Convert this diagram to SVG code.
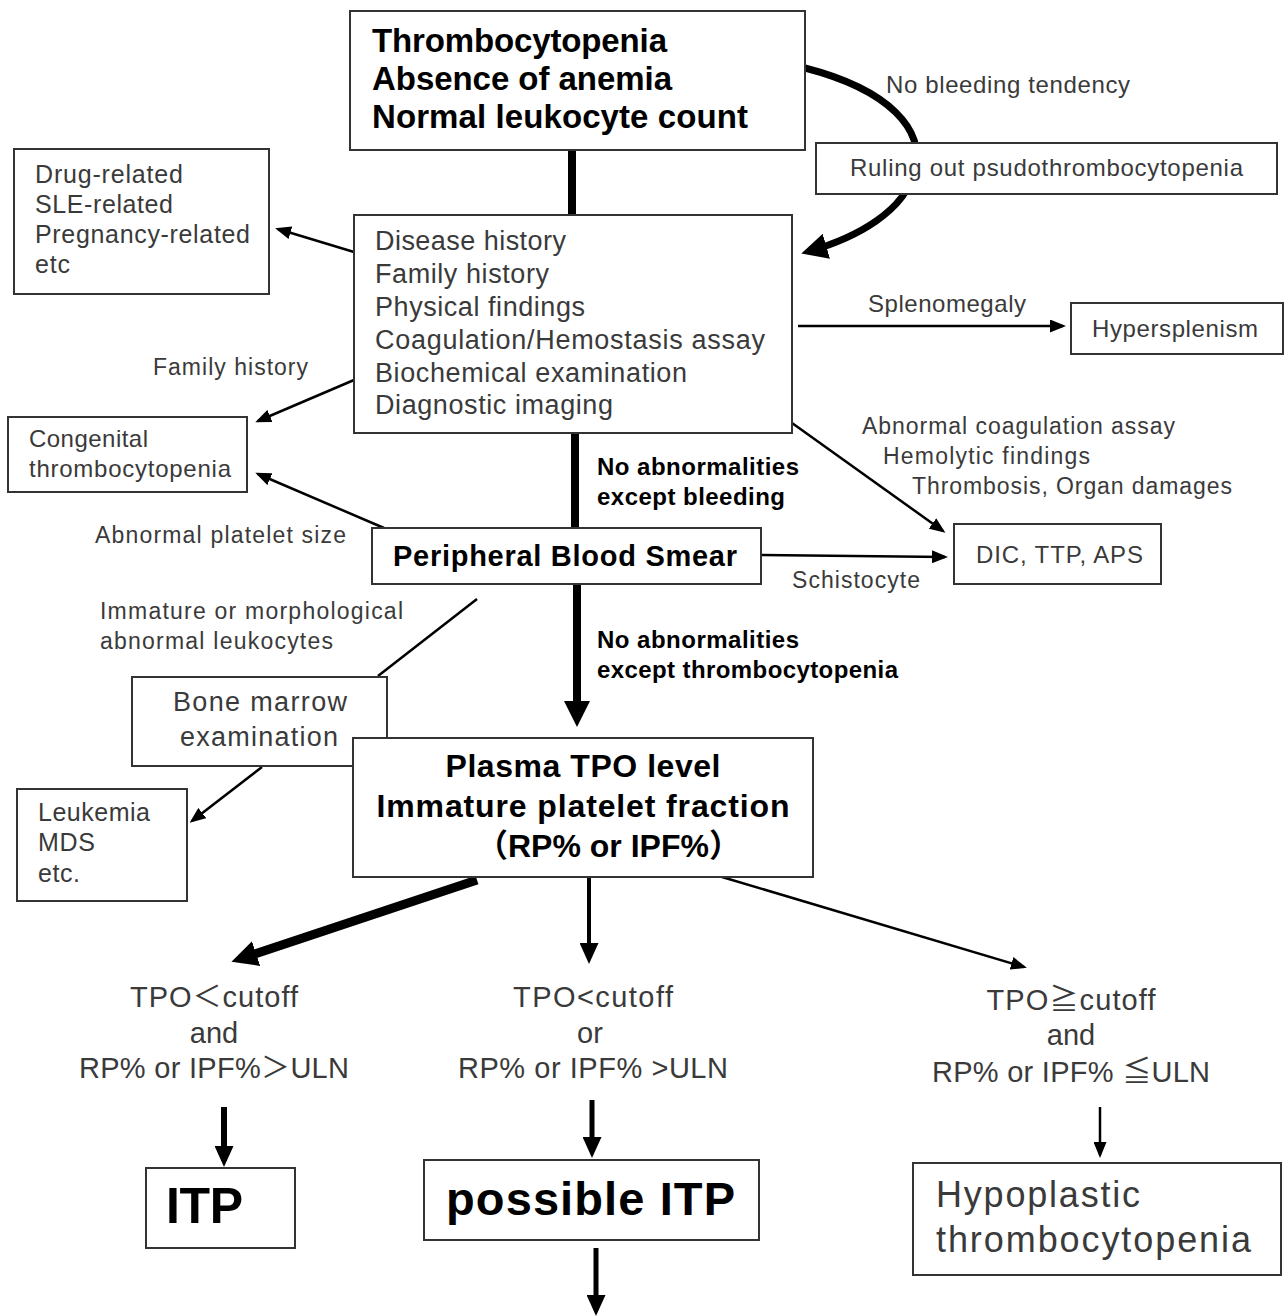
<svg xmlns="http://www.w3.org/2000/svg" width="1285" height="1316" viewBox="0 0 1285 1316">
<style>
text{font-family:"Liberation Sans","Noto Sans CJK JP",sans-serif;}
.r{fill:#3a3a3a;font-weight:400;}
.b{fill:#000;font-weight:700;}
.box{fill:#fff;stroke:#333;stroke-width:2;}
.c{fill:none;stroke:#000;}
.m{text-anchor:middle;}
</style>
<defs>
<marker id="as" markerUnits="userSpaceOnUse" viewBox="0 0 16 13" refX="13" refY="6.5" markerWidth="16" markerHeight="13" orient="auto"><path d="M0,0 L16,6.5 L0,13 z" fill="#000"/></marker>
<marker id="am" markerUnits="userSpaceOnUse" viewBox="0 0 21 19" refX="15" refY="9.5" markerWidth="21" markerHeight="19" orient="auto"><path d="M0,0 L21,9.5 L0,19 z" fill="#000"/></marker>
<marker id="al" markerUnits="userSpaceOnUse" viewBox="0 0 26 26" refX="17" refY="13" markerWidth="26" markerHeight="26" orient="auto"><path d="M0,0 L26,13 L0,26 z" fill="#000"/></marker>
</defs>

<g id="connectors">
<line class="c" x1="572" y1="150" x2="572" y2="215" stroke-width="8"/>
<path class="c" d="M805,68 C890,90 925,130 915,170 C905,212 855,238 810,251" stroke-width="7" marker-end="url(#al)"/>
<line class="c" x1="354" y1="252" x2="278" y2="229" stroke-width="2.5" marker-end="url(#as)"/>
<line class="c" x1="354" y1="380" x2="258" y2="421" stroke-width="2.5" marker-end="url(#as)"/>
<line class="c" x1="384" y1="528" x2="258" y2="474" stroke-width="2.5" marker-end="url(#as)"/>
<line class="c" x1="575" y1="433" x2="575" y2="528" stroke-width="8"/>
<line class="c" x1="798" y1="326" x2="1063" y2="326" stroke-width="2.5" marker-end="url(#as)"/>
<line class="c" x1="792" y1="423" x2="943" y2="531" stroke-width="2.5" marker-end="url(#as)"/>
<line class="c" x1="761" y1="555" x2="945" y2="557" stroke-width="2.5" marker-end="url(#as)"/>
<line class="c" x1="577" y1="584" x2="577" y2="718" stroke-width="8" marker-end="url(#al)"/>
<line class="c" x1="477" y1="599" x2="378" y2="676" stroke-width="2.5"/>
<line class="c" x1="262" y1="767" x2="192" y2="821" stroke-width="2.5" marker-end="url(#as)"/>
<line class="c" x1="477" y1="880" x2="240" y2="959" stroke-width="9" marker-end="url(#al)"/>
<line class="c" x1="589" y1="877" x2="589" y2="958" stroke-width="4" marker-end="url(#am)"/>
<line class="c" x1="722" y1="877" x2="1024" y2="967" stroke-width="2.5" marker-end="url(#as)"/>
<line class="c" x1="224" y1="1107" x2="224" y2="1161" stroke-width="6" marker-end="url(#am)"/>
<line class="c" x1="592" y1="1100" x2="592" y2="1152" stroke-width="5" marker-end="url(#am)"/>
<line class="c" x1="1100" y1="1107" x2="1100" y2="1155" stroke-width="2.5" marker-end="url(#as)"/>
<line class="c" x1="596" y1="1248" x2="596" y2="1310" stroke-width="5" marker-end="url(#am)"/>
</g>

<g id="n-start">
<rect class="box" x="350" y="11" width="455" height="139"/>
<text class="b" x="372" y="52" font-size="33" textLength="295" lengthAdjust="spacing">Thrombocytopenia</text>
<text class="b" x="372" y="90" font-size="33" textLength="300" lengthAdjust="spacing">Absence of anemia</text>
<text class="b" x="372" y="128" font-size="33" textLength="376" lengthAdjust="spacing">Normal leukocyte count</text>
</g>

<g id="n-ruling">
<rect class="box" x="816" y="143" width="461" height="51"/>
<text class="r" x="850" y="176" font-size="24" textLength="393">Ruling out psudothrombocytopenia</text>
</g>
<g id="l-nobleed"><text class="r" x="886" y="93" font-size="24" textLength="244">No bleeding tendency</text></g>

<g id="n-history">
<rect class="box" x="354" y="215" width="438" height="218"/>
<text class="r" x="375" y="250" font-size="27" textLength="191">Disease history</text>
<text class="r" x="375" y="283" font-size="27" textLength="174">Family history</text>
<text class="r" x="375" y="316" font-size="27" textLength="210">Physical findings</text>
<text class="r" x="375" y="349" font-size="27" textLength="390">Coagulation/Hemostasis assay</text>
<text class="r" x="375" y="382" font-size="27" textLength="312">Biochemical examination</text>
<text class="r" x="375" y="414" font-size="27" textLength="238">Diagnostic imaging</text>
</g>

<g id="n-drug">
<rect class="box" x="14" y="149" width="255" height="145"/>
<text class="r" x="35" y="183" font-size="25" textLength="148">Drug-related</text>
<text class="r" x="35" y="213" font-size="25" textLength="138">SLE-related</text>
<text class="r" x="35" y="243" font-size="25" textLength="215">Pregnancy-related</text>
<text class="r" x="35" y="273" font-size="25" textLength="35">etc</text>
</g>

<g id="l-family"><text class="r" x="153" y="375" font-size="23" textLength="155">Family history</text></g>

<g id="n-hyper">
<rect class="box" x="1071" y="303" width="212" height="51"/>
<text class="r" x="1092" y="337" font-size="24" textLength="166">Hypersplenism</text>
</g>
<g id="l-spleno"><text class="r" x="868" y="312" font-size="24" textLength="158">Splenomegaly</text></g>

<g id="n-congenital">
<rect class="box" x="8" y="417" width="239" height="75"/>
<text class="r" x="29" y="447" font-size="24" textLength="119">Congenital</text>
<text class="r" x="29" y="477" font-size="24" textLength="202">thrombocytopenia</text>
</g>

<g id="l-coag">
<text class="r" x="862" y="434" font-size="23" textLength="313">Abnormal coagulation assay</text>
<text class="r" x="883" y="464" font-size="23" textLength="207">Hemolytic findings</text>
<text class="r" x="912" y="494" font-size="23" textLength="320">Thrombosis, Organ damages</text>
</g>

<g id="l-bleed">
<text class="b" x="597" y="475" font-size="24" textLength="202">No abnormalities</text>
<text class="b" x="597" y="505" font-size="24" textLength="188">except bleeding</text>
</g>

<g id="l-size"><text class="r" x="95" y="543" font-size="23" textLength="251">Abnormal platelet size</text></g>

<g id="n-pbs">
<rect class="box" x="372" y="528" width="389" height="56"/>
<text class="b" x="393" y="566" font-size="29" textLength="344">Peripheral Blood Smear</text>
</g>

<g id="n-dic">
<rect class="box" x="954" y="524" width="207" height="60"/>
<text class="r" x="976" y="563" font-size="24" textLength="167">DIC, TTP, APS</text>
</g>
<g id="l-schisto"><text class="r" x="792" y="588" font-size="23" textLength="128">Schistocyte</text></g>

<g id="l-immature">
<text class="r" x="100" y="619" font-size="23" textLength="303">Immature or morphological</text>
<text class="r" x="100" y="649" font-size="23" textLength="233">abnormal leukocytes</text>
</g>

<g id="l-thrombo">
<text class="b" x="597" y="648" font-size="24" textLength="202">No abnormalities</text>
<text class="b" x="597" y="678" font-size="24" textLength="301">except thrombocytopenia</text>
</g>

<g id="n-bone">
<rect class="box" x="132" y="677" width="255" height="89"/>
<text class="r m" x="260" y="711" font-size="27" textLength="174">Bone marrow</text>
<text class="r m" x="259" y="746" font-size="27" textLength="158">examination</text>
</g>

<g id="n-leuk">
<rect class="box" x="17" y="789" width="170" height="112"/>
<text class="r" x="38" y="821" font-size="25" textLength="112">Leukemia</text>
<text class="r" x="38" y="851" font-size="25" textLength="57">MDS</text>
<text class="r" x="38" y="882" font-size="25" textLength="42">etc.</text>
</g>

<g id="n-tpo">
<rect class="box" x="353" y="738" width="460" height="139"/>
<text class="b m" x="583" y="777" font-size="32" textLength="275">Plasma TPO level</text>
<text class="b m" x="583" y="817" font-size="32" textLength="413">Immature platelet fraction</text>
<text class="b" x="476" y="857" font-size="32">（RP% or IPF%）</text>
</g>

<g id="l-left">
<text class="r m" x="214" y="1007" font-size="29" textLength="168">TPO＜cutoff</text>
<text class="r m" x="214" y="1043" font-size="29">and</text>
<text class="r m" x="214" y="1078" font-size="29" textLength="270">RP% or IPF%＞ULN</text>
</g>
<g id="l-mid">
<text class="r m" x="593" y="1007" font-size="29" textLength="160">TPO&lt;cutoff</text>
<text class="r m" x="590" y="1043" font-size="29">or</text>
<text class="r m" x="593" y="1078" font-size="29" textLength="270">RP% or IPF% &gt;ULN</text>
</g>
<g id="l-right">
<text class="r m" x="1071" y="1010" font-size="29" textLength="169">TPO≧cutoff</text>
<text class="r m" x="1071" y="1045" font-size="29">and</text>
<text class="r m" x="1071" y="1082" font-size="29" textLength="278">RP% or IPF% ≦ULN</text>
</g>

<g id="n-itp">
<rect class="box" x="146" y="1168" width="149" height="80"/>
<text class="b" x="166" y="1223" font-size="50" textLength="77">ITP</text>
</g>
<g id="n-possible">
<rect class="box" x="424" y="1160" width="335" height="80"/>
<text class="b" x="446" y="1215" font-size="47" textLength="289">possible ITP</text>
</g>
<g id="n-hypo">
<rect class="box" x="913" y="1163" width="368" height="112"/>
<text class="r" x="936" y="1207" font-size="36" textLength="204">Hypoplastic</text>
<text class="r" x="936" y="1252" font-size="36" textLength="315">thrombocytopenia</text>
</g>
</svg>
